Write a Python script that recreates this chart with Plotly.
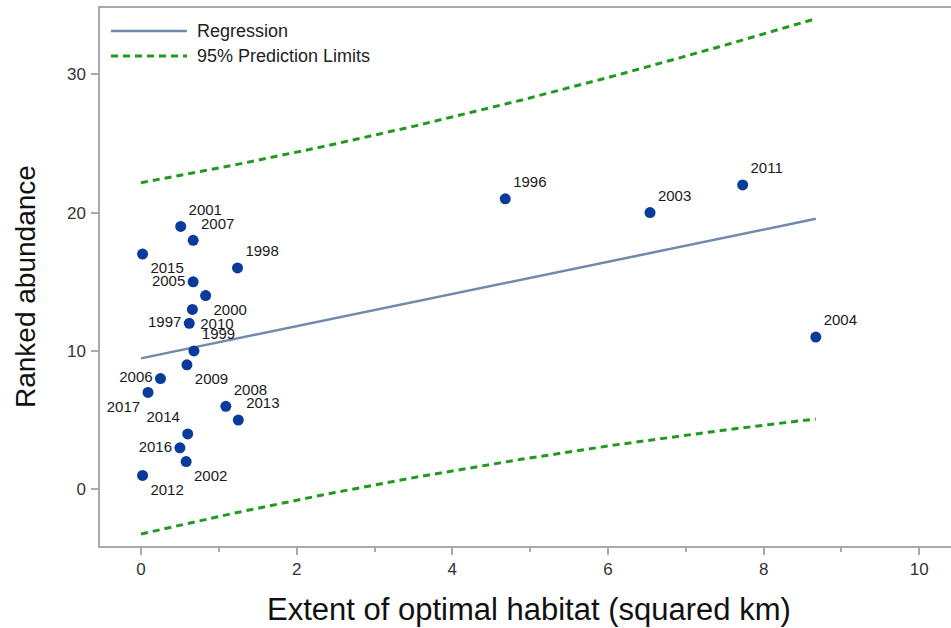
import numpy as np
import plotly.graph_objects as go

# Survey years, habitat extent (km^2) and ranked abundance
years = ["1996", "2003", "2011", "2004", "2001", "2007", "2015", "1998", "2005", "2000", "2010",
         "1997", "1999", "2009", "2006", "2017", "2008", "2013", "2014", "2016", "2002", "2012"]
habitat_km2 = [4.68, 6.54, 7.73, 8.67, 0.51, 0.67, 0.02, 1.24, 0.67, 0.83, 0.66,
               0.62, 0.68, 0.59, 0.25, 0.09, 1.09, 1.25, 0.60, 0.50, 0.58, 0.02]
ranked_abundance = [21, 20, 22, 11, 19, 18, 17, 16, 15, 14, 13,
                    12, 10, 9, 8, 7, 6, 5, 4, 3, 2, 1]

x_ticks = [0, 2, 4, 6, 8, 10]
y_ticks = [0, 10, 20, 30]

# Where each year label sits relative to its point
label_side = {
    "2005": "middle left", "1997": "middle left", "2006": "middle left", "2016": "middle left",
    "2014": "top left", "2017": "bottom left",
    "2015": "bottom right", "2000": "bottom right", "2010": "bottom right",
    "2009": "bottom right", "2002": "bottom right", "2012": "bottom right",
}
text_pos = [label_side.get(y, "top right") for y in years]

# Ordinary least squares fit with 95% prediction limits
x = np.array(habitat_km2, dtype=float)
y = np.array(ranked_abundance, dtype=float)
n = len(x)
slope, intercept = np.polyfit(x, y, 1)
resid = y - (intercept + slope * x)
s = np.sqrt(np.sum(resid ** 2) / (n - 2))
T_975 = 2.086  # Student t, 0.975 quantile, 20 df
sxx = np.sum((x - x.mean()) ** 2)
xf = np.linspace(0.0, x.max(), 120)
yf = intercept + slope * xf
half = T_975 * s * np.sqrt(1 + 1 / n + (xf - x.mean()) ** 2 / sxx)

FONT = "Liberation Sans, Arial, sans-serif"
AXIS_GRAY = "#a9a9a9"
FIT_COLOR = "#7189ab"
PI_COLOR = "#1f9a1f"
DOT_COLOR = "#0a3a9c"
PI_DASH = "7px,5px"

fig = go.Figure()
fig.add_trace(go.Scatter(x=xf, y=yf + half, mode="lines",
                         line=dict(color=PI_COLOR, width=3, dash=PI_DASH), hoverinfo="skip"))
fig.add_trace(go.Scatter(x=xf, y=yf - half, mode="lines",
                         line=dict(color=PI_COLOR, width=3, dash=PI_DASH), hoverinfo="skip"))
fig.add_trace(go.Scatter(x=xf, y=yf, mode="lines",
                         line=dict(color=FIT_COLOR, width=2.5), hoverinfo="skip"))
fig.add_trace(go.Scatter(x=habitat_km2, y=ranked_abundance, mode="markers+text",
                         text=years, textposition=text_pos,
                         textfont=dict(family=FONT, size=15, color="#1a1a1a"),
                         marker=dict(color=DOT_COLOR, size=11)))

# Plot-area geometry in pixels
W, H = 951, 628
L, R, T, B = 100, 0, 8, 82
pw, ph = W - L - R, H - T - B


def px(xp):
    return (xp - L) / pw


def py(yp):
    return (H - B - yp) / ph


# Legend drawn in the upper-left corner of the plot area
shapes = [
    dict(type="line", xref="paper", yref="paper", x0=px(111), x1=px(187), y0=py(31), y1=py(31),
         line=dict(color=FIT_COLOR, width=2.5)),
    dict(type="line", xref="paper", yref="paper", x0=px(111), x1=px(187), y0=py(56), y1=py(56),
         line=dict(color=PI_COLOR, width=3, dash=PI_DASH)),
]
annotations = [
    dict(text="Regression", xref="paper", yref="paper", x=px(195), y=py(31),
         xanchor="left", yanchor="middle", showarrow=False,
         font=dict(family=FONT, size=18, color="#222222")),
    dict(text="95% Prediction Limits", xref="paper", yref="paper", x=px(195), y=py(56),
         xanchor="left", yanchor="middle", showarrow=False,
         font=dict(family=FONT, size=18, color="#222222")),
    dict(text="Extent of optimal habitat (squared km)", xref="paper", yref="paper",
         x=px(529), y=py(609), xanchor="center", yanchor="middle", showarrow=False,
         font=dict(family=FONT, size=31, color="#111111")),
    dict(text="Ranked abundance", xref="paper", yref="paper", textangle=-90,
         x=px(25), y=py(287), xanchor="center", yanchor="middle", showarrow=False,
         font=dict(family=FONT, size=28, color="#111111")),
]

fig.update_layout(
    width=W, height=H,
    margin=dict(l=L, r=R, t=T, b=B, pad=0),
    paper_bgcolor="white", plot_bgcolor="white",
    showlegend=False,
    shapes=shapes, annotations=annotations,
    xaxis=dict(range=[-0.527, 10.407], tickvals=x_ticks, ticks="outside", ticklen=7,
               tickcolor=AXIS_GRAY, tickwidth=1.5,
               minor=dict(tickvals=[1, 3, 5, 7, 9], ticks="outside", ticklen=4,
                          tickcolor=AXIS_GRAY, tickwidth=1.5),
               showline=True, linecolor=AXIS_GRAY, linewidth=1.5, mirror=True,
               showgrid=False, zeroline=False,
               tickfont=dict(family=FONT, size=17, color="#333333")),
    yaxis=dict(range=[-4.10, 34.79], tickvals=y_ticks, ticks="outside", ticklen=7,
               tickcolor=AXIS_GRAY, tickwidth=1.5,
               showline=True, linecolor=AXIS_GRAY, linewidth=1.5,
               showgrid=False, zeroline=False, ticklabelstandoff=2,
               tickfont=dict(family=FONT, size=17, color="#333333")),
)

fig.write_html("out.html")
